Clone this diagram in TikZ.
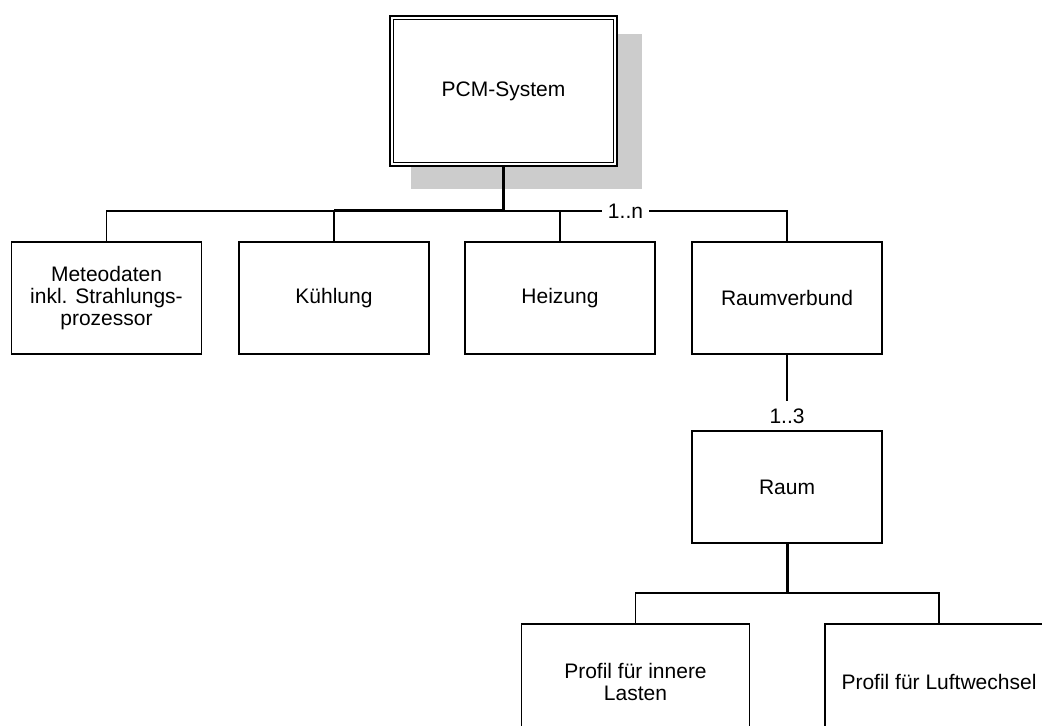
\documentclass[tikz,border=0pt]{standalone}
\usepackage{fontspec}
\setmainfont{Liberation Sans}
\usetikzlibrary{backgrounds}

\begin{document}
\begin{tikzpicture}[x=0.5pt,y=-0.5pt,
    font=\fontsize{10.5}{11}\selectfont,
    conn/.style={line width=0.9pt},
    stem/.style={line width=1.5pt},
    box/.style={draw,line width=0.9pt,fill=white,align=center,inner sep=0pt,
      minimum width=95pt,minimum height=56pt},
    profbox/.style={box,minimum width=114pt,minimum height=58pt},
    mainbox/.style={draw,line width=0.85pt,double,double distance=1pt,fill=white,
      inner sep=0pt,minimum width=111.9pt,minimum height=73.4pt},
    mult/.style={fill=white,inner xsep=3pt,inner ysep=3.5pt}]
    \useasboundingbox (0,0) rectangle (1042,726);
    \clip (0,0) rectangle (1042,726);
    \node[mainbox] (pcm) at (503.5,91) {PCM-System};
    \begin{scope}[on background layer]
      \fill[black!20] ([shift={(20,17)}]pcm.north west) rectangle ([shift={(26,24)}]pcm.south east);
    \end{scope}
    \node[box] (meteo) at (106.5,298) {Meteodaten\\inkl. Strahlungs-\\prozessor};
    \node[box] (kuehl) at (334,298) {Kühlung};
    \node[box] (heiz) at (560,298) {Heizung};
    \node[box] (raumv) at (787,298) {Raumverbund};
    \node[box] (raum) at (787,487) {Raum};
    \node[profbox] (innen) at (635.5,682) {Profil für innere\\Lasten};
    \node[profbox] (luft) at (939,682) {Profil für Luftwechsel};
    \coordinate (bus1) at (0,211);
    \coordinate (bus2) at (0,593);
    \draw[conn] (meteo.north) |- (bus1 -| raumv.north) -- (raumv.north);
    \draw[conn] (kuehl.north) -- (kuehl.north |- bus1);
    \draw[conn] (heiz.north) -- (heiz.north |- bus1);
    \draw[stem] (pcm.south) -- (pcm.south |- bus1);
    \draw[stem] (kuehl.north |- bus1) -- (pcm.south |- bus1);
    \node[mult] (m1) at (625.5,211) {1..n};
    \node[mult,inner xsep=2pt] (m2) at (787,416) {1..3};
    \draw[conn] (raumv.south) -- (m2.north);
    \draw[stem] (raum.south) -- (raum.south |- bus2);
    \draw[conn] (innen.north) |- (bus2 -| luft.north) -- (luft.north);
\end{tikzpicture}
\end{document}
